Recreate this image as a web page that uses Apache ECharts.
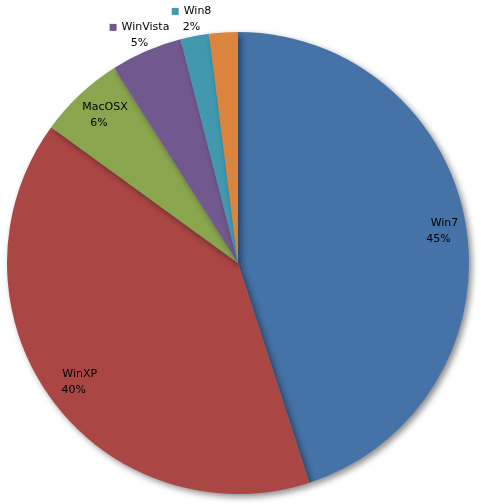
<!DOCTYPE html>
<html><head><meta charset="utf-8">
<script src="https://cdn.jsdelivr.net/npm/echarts@6/dist/echarts.min.js"></script>
<style>html,body{margin:0;padding:0;background:#fff}#c{width:481px;height:504px}</style>
</head><body><div id="c"></div>
<script>
const categories=['Win7','WinXP','MacOSX','WinVista','Win8','その他'];
const values=[45,40,6,5,2,2];
const colors=['#4572A7','#AA4643','#89A54E','#71588F','#4198AF','#DB843D'];
const insideSet=['Win7','WinXP','MacOSX'];
const chart=echarts.init(document.getElementById('c'));
const font={fontFamily:'DejaVu Sans',fontSize:11,color:'#000'};
function rich(i){return {a:{...font,lineHeight:16},j:{fontFamily:'Noto Sans CJK JP',fontSize:13,color:'#000',lineHeight:16},b:{width:7,height:7,backgroundColor:colors[i]},s:{width:5}};}
const fmt=p=>'{b|}{s|}{'+(p.name==='その他'?'j':'a')+'|'+p.name+'}\n{a|'+Math.round(p.percent)+'%}';
const center=[238,263];
function overlay(rad,set,z){
 return {type:'pie',center,radius:[0,rad],startAngle:90,clockwise:true,z,silent:true,
  itemStyle:{color:'rgba(0,0,0,0)'},
  data:categories.map((n,i)=>({name:n,value:values[i],
   label:{show:set.includes(n),position:'inside',formatter:fmt,rich:rich(i),...font}})),
  emphasis:{disabled:true}};
}
chart.setOption({
 animation:false,
 series:[
 {type:'pie',center,radius:[0,231],startAngle:90,clockwise:true,z:2,
  itemStyle:{shadowBlur:6,shadowOffsetX:3,shadowOffsetY:3,shadowColor:'rgba(0,0,0,0.45)'},
  label:{show:false},
  data:categories.map((n,i)=>({name:n,value:values[i],itemStyle:{color:colors[i]}})),
  emphasis:{disabled:true}
 },
 overlay(400,insideSet,3),
 overlay(490,['WinVista','Win8','その他'],4)
 ]
});
</script></body></html>
